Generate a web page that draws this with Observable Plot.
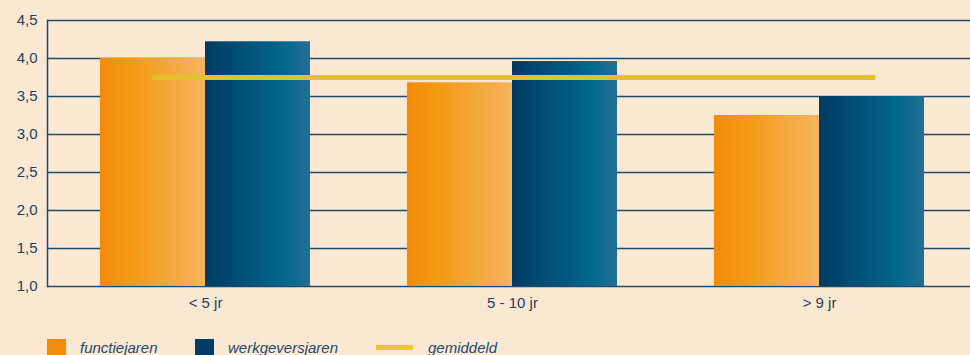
<!DOCTYPE html>
<html>
<head>
<meta charset="utf-8">
<script src="https://cdn.jsdelivr.net/npm/d3@7"></script>
<script src="https://cdn.jsdelivr.net/npm/@observablehq/plot@0.6"></script>
<style>
  html, body { margin: 0; padding: 0; background: #fae8d3; }
  #wrap { position: relative; width: 970px; height: 355px; overflow: hidden; background: #fae8d3; }
  #chart svg { display: block; }
  .legend { position: absolute; top: 339px; left: 0; width: 970px; height: 20px;
            font-family: "Liberation Sans", Arial, sans-serif; font-style: italic;
            font-size: 15px; color: #1d4a6e; }
  .legend .sw { position: absolute; top: 0; width: 19px; height: 18px; }
  .legend .ln { position: absolute; top: 6px; width: 37px; height: 5px; background: #ecc537; }
  .legend .lb { position: absolute; top: 0; line-height: 18px; }
</style>
</head>
<body>
<div id="wrap">
  <div id="chart"></div>
  <div class="legend">
    <div class="sw" style="left:47px;background:#f28c0a"></div>
    <div class="lb" style="left:80px">functiejaren</div>
    <div class="sw" style="left:195px;background:#033d66"></div>
    <div class="lb" style="left:228px">werkgeversjaren</div>
    <div class="ln" style="left:376px"></div>
    <div class="lb" style="left:428px">gemiddeld</div>
  </div>
</div>
<script>
// Years of service groups and average scores per group
const categories = ["< 5 jr", "5 - 10 jr", "> 9 jr"];
const functiejaren = [4.0, 3.68, 3.25];
const werkgeversjaren = [4.22, 3.96, 3.5];
const gemiddeld = 3.75;
const yTicks = [1.0, 1.5, 2.0, 2.5, 3.0, 3.5, 4.0, 4.5];

const rows = categories.flatMap((c, i) => [
  {groep: c, reeks: "functiejaren", waarde: functiejaren[i]},
  {groep: c, reeks: "werkgeversjaren", waarde: werkgeversjaren[i]}
]);

const fmt = d => d.toFixed(1).replace(".", ",");

function build(bw) {
  const half = bw / 2;
  return Plot.plot({
    width: 970,
    height: 330,
    marginTop: 20,
    marginBottom: 44,
    marginLeft: 47,
    marginRight: 0,
    style: {background: "transparent", fontFamily: "Liberation Sans, Arial, sans-serif", fontSize: "15px", color: "#1d3f5e"},
    x: {domain: categories, paddingInner: 0.316, paddingOuter: 0.16, align: 0.54, label: null},
    y: {domain: [1, 4.5], label: null},
    marks: [
      Plot.ruleY(yTicks, {stroke: "#1c4a6c", strokeWidth: 1.5}),
      Plot.barY(rows.filter(d => d.reeks === "functiejaren"),
        {x: "groep", y1: () => 1, y2: "waarde", fill: "url(#grad-oranje)", insetRight: half}),
      Plot.barY(rows.filter(d => d.reeks === "werkgeversjaren"),
        {x: "groep", y1: () => 1, y2: "waarde", fill: "url(#grad-blauw)", insetLeft: half}),
      Plot.ruleY([gemiddeld], {x1: () => categories[0], x2: () => categories[categories.length - 1],
        insetLeft: bw / 4, insetRight: bw / 4 - 4, stroke: "#e3c12e", strokeWidth: 5}),
      Plot.frame({anchor: "left", stroke: "#1c4a6c", strokeWidth: 1.5}),
      Plot.axisY(yTicks, {tickSize: 0, tickPadding: 10, tickFormat: fmt, fontSize: 15}),
      Plot.axisX({tickSize: 0, tickPadding: 11, fontSize: 15})
    ]
  });
}

const probe = build(0);
const bw = probe.scale("x").bandwidth;
const svg = build(bw);

// gradient fills for the bars
const defs = d3.select(svg).insert("defs", ":first-child");
const g1 = defs.append("linearGradient").attr("id", "grad-oranje").attr("x1", "0").attr("x2", "1").attr("y1", "0").attr("y2", "0");
g1.append("stop").attr("offset", "0").attr("stop-color", "#f28b0a");
g1.append("stop").attr("offset", "0.25").attr("stop-color", "#f3980f");
g1.append("stop").attr("offset", "1").attr("stop-color", "#f6b45e");
const g2 = defs.append("linearGradient").attr("id", "grad-blauw").attr("x1", "0").attr("x2", "1").attr("y1", "0").attr("y2", "0");
g2.append("stop").attr("offset", "0").attr("stop-color", "#013b64");
g2.append("stop").attr("offset", "0.75").attr("stop-color", "#03678d");
g2.append("stop").attr("offset", "1").attr("stop-color", "#246f93");

document.getElementById("chart").appendChild(svg);
</script>
</body>
</html>
